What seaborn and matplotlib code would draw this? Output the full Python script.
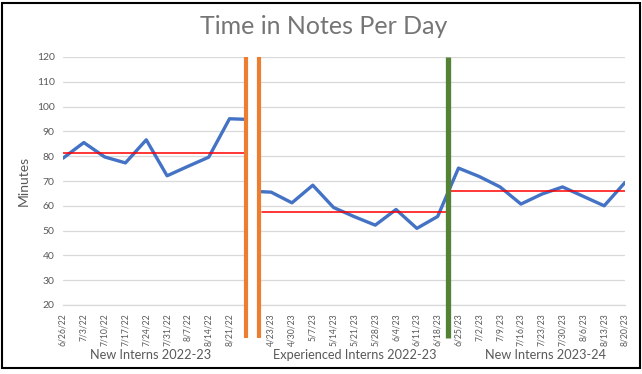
import numpy as np
import pandas as pd
import matplotlib.pyplot as plt
import seaborn as sns
from matplotlib.patches import Rectangle
import matplotlib.transforms as mtransforms

# weekly minutes
dates_2022 = ["6/26/22", "7/3/22", "7/10/22", "7/17/22", "7/24/22", "7/31/22",
              "8/7/22", "8/14/22", "8/21/22", "8/28/22"]
minutes_2022 = [79.2, 85.5, 79.7, 77.3, 86.6, 72.1, 75.9, 79.6, 95.1, 94.8]

dates_exp = ["4/16/23", "4/23/23", "4/30/23", "5/7/23", "5/14/23", "5/21/23",
             "5/28/23", "6/4/23", "6/11/23", "6/18/23"]
minutes_exp = [65.9, 65.5, 61.2, 68.3, 59.3, 55.6, 52.2, 58.5, 50.9, 55.7]

dates_new = ["6/25/23", "7/2/23", "7/9/23", "7/16/23", "7/23/23", "7/30/23",
             "8/6/23", "8/13/23", "8/20/23"]
minutes_new = [75.2, 71.8, 67.6, 60.7, 64.7, 67.6, 63.8, 60.0, 69.4]

group_names = ["New Interns 2022-23", "Experienced Interns 2022-23", "New Interns 2023-24"]
group_means = [81.3, 57.4, 65.9]

# hidden dates sit in the gap behind the orange break
hidden = ["8/28/22", "4/16/23"]

# x positions: the 2022 block, then the 2023 block sharing the gap slot
pos_2022 = np.arange(len(dates_2022))
pos_2023 = np.arange(len(dates_exp) + len(dates_new)) + len(dates_2022) - 1

df1 = pd.DataFrame({"x": pos_2022, "minutes": minutes_2022})
df2 = pd.DataFrame({"x": pos_2023, "minutes": minutes_exp + minutes_new})

all_dates = dates_2022 + dates_exp[1:] + dates_new
tick_labels = ["" if d in hidden else d for d in all_dates]

sns.set_style("white")
plt.rcParams["font.family"] = ["Lato", "DejaVu Sans"]

grey = "#595959"
fig = plt.figure(figsize=(6.42, 3.74), dpi=100)
ax = fig.add_axes([63 / 642, 1 - 305 / 374, 562 / 642, 248 / 374])

sns.lineplot(data=df1, x="x", y="minutes", color="#4472C4", linewidth=2.4, ax=ax)
sns.lineplot(data=df2, x="x", y="minutes", color="#4472C4", linewidth=2.4, ax=ax)

# break / phase markers
brk1, brk2, phase = 8.78, 9.44, 18.52
edges = [(0, brk1), (brk2 + 0.1, phase), (phase, len(all_dates) - 1)]
for (a, b), m in zip(edges, group_means):
    ax.plot([a, b], [m, m], color="#FF0000", linewidth=1.1, zorder=3)

low = -33 / 248
trans = mtransforms.blended_transform_factory(ax.transData, ax.transAxes)
ax.add_patch(Rectangle((brk1, low), brk2 - brk1, 1 - low + 0.01, transform=trans,
                       facecolor="white", edgecolor="none", zorder=5, clip_on=False))
for xv in [brk1, brk2]:
    ax.axvline(xv, ymin=low, ymax=1, color="#ED7D31", linewidth=3,
               solid_capstyle="butt", zorder=6, clip_on=False)
ax.axvline(phase, ymin=low, ymax=1, color="#548235", linewidth=3.8,
           solid_capstyle="butt", zorder=6, clip_on=False)

ax.set_xlim(0, len(all_dates) - 1)
ax.set_ylim(20, 120)
ax.set_yticks(range(20, 121, 10))
ax.set_xticks(range(len(all_dates)))
ax.set_xticklabels(tick_labels, rotation=90, fontsize=6.2, color=grey)
ax.tick_params(axis="y", labelsize=7.5, labelcolor=grey, length=0, pad=6)
ax.tick_params(axis="x", length=4, width=0.8, color="#BFBFBF", pad=2)
ax.grid(axis="y", color="#D9D9D9", linewidth=0.9)
ax.set_axisbelow(True)
for s in ["top", "right", "left"]:
    ax.spines[s].set_visible(False)
ax.spines["bottom"].set_color("#D9D9D9")
ax.spines["bottom"].set_linewidth(0.9)

ax.set_xlabel("")
ax.set_ylabel("Minutes", fontsize=10, color=grey)
ax.yaxis.set_label_coords(-0.06, 0.5)

group_centers = [4.2, 14.0, 23.2]
for c, name in zip(group_centers, group_names):
    ax.text(c, -0.2, name, transform=trans, ha="center", va="center",
            fontsize=9.2, color=grey)

fig.text(324 / 642, 1 - 27 / 374, "Time in Notes Per Day", ha="center", va="center",
         fontsize=18, color="#757575")

fig.patches.append(Rectangle((2 / 642, 1 - 368 / 374), 638 / 642, 365 / 374,
                             transform=fig.transFigure, fill=False,
                             edgecolor="black", linewidth=1.5))

fig.savefig("out.png", dpi=100)
